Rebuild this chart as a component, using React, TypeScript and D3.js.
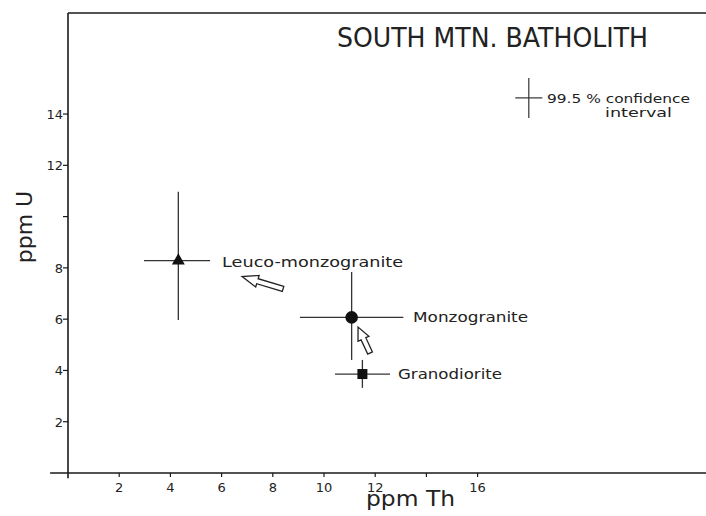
import React from "react";
import * as d3 from "d3";

// ---- data ----
const groups = ["Leuco-monzogranite", "Monzogranite", "Granodiorite"];
const markers = ["triangle", "circle", "square"];
const thMean = [4.31, 11.08, 11.5];
const uMean = [8.28, 6.07, 3.86];
const thLow = [2.97, 9.06, 10.43];
const thHigh = [5.55, 13.1, 12.58];
const uLow = [5.97, 4.41, 3.32];
const uHigh = [10.97, 7.84, 4.41];

const xTicks = [2, 4, 6, 8, 10, 12, 14, 16];
const xTickLabels = ["2", "4", "6", "8", "10", "12", "", "16"];
const yTicks = [2, 4, 6, 8, 10, 12, 14];
const yTickLabels = ["2", "4", "6", "8", "", "12", "14"];

// confidence interval legend (data units)
const ciCenter = [18.0, 14.63];
const ciHalf = [0.53, 0.78];

// annotation arrows (tip -> tail, data units)
const arrowTips = [[6.8, 7.66], [11.33, 5.69]];
const arrowTails = [[8.4, 7.18], [11.8, 4.68]];

// label anchors (data units)
const labelAt = [[6.02, 8.03], [13.48, 5.89], [12.89, 3.67]];
const labelLen = [181, 115, 104];

const W = 706;
const H = 516;
const PX = 25.6;
const PY = 25.64;
const x = d3.scaleLinear().domain([0, 25]).range([68, 68 + 25 * PX]);
const y = d3.scaleLinear().domain([0, 18]).range([473, 473 - 18 * PY]);

const FONT = "'DejaVu Sans', 'Open Sans', sans-serif";
const INK = "#1a1a1a";

function arrowPath(tip: number[], tail: number[]) {
  const tx = x(tip[0]), ty = y(tip[1]);
  const sx = x(tail[0]), sy = y(tail[1]);
  const dx = tx - sx, dy = ty - sy;
  const len = Math.hypot(dx, dy);
  const ux = dx / len, uy = dy / len;
  const nx = -uy, ny = ux;
  const headLen = Math.min(16, len * 0.45);
  const headW = 6;
  const shaftW = 2.6;
  const bx = tx - ux * headLen, by = ty - uy * headLen;
  const pts = [
    [sx + nx * shaftW, sy + ny * shaftW],
    [bx + nx * shaftW, by + ny * shaftW],
    [bx + nx * headW, by + ny * headW],
    [tx, ty],
    [bx - nx * headW, by - ny * headW],
    [bx - nx * shaftW, by - ny * shaftW],
    [sx - nx * shaftW, sy - ny * shaftW],
  ];
  return d3.line()(pts as [number, number][]) + "Z";
}

function Marker({ kind, cx, cy }: { kind: string; cx: number; cy: number }) {
  if (kind === "circle") return <circle cx={cx} cy={cy} r={6.3} fill="#111" />;
  if (kind === "square") return <rect x={cx - 5} y={cy - 5} width={10} height={10} fill="#111" />;
  const s = d3.symbol().type(d3.symbolTriangle).size(72)();
  return <path d={s as string} transform={`translate(${cx},${cy})`} fill="#111" />;
}

export default function App() {
  return (
    <svg
      width={W}
      height={H}
      viewBox={`0 0 ${W} ${H}`}
      style={{ position: "absolute", left: 0, top: 0, background: "#fff" }}
    >
      <rect width={W} height={H} fill="#fff" />
      {/* frame */}
      <line x1={x(0)} x2={W} y1={y(17.94)} y2={y(17.94)} stroke={INK} strokeWidth={1.6} />
      <line x1={x(0)} x2={x(0)} y1={y(17.94)} y2={y(-0.2)} stroke={INK} strokeWidth={1.6} />
      <line x1={x(-0.7)} x2={W} y1={y(0)} y2={y(0)} stroke={INK} strokeWidth={1.6} />

      {/* y ticks */}
      {yTicks.map((t, i) => (
        <g key={"y" + t}>
          <line x1={x(0) - 5} x2={x(0)} y1={y(t)} y2={y(t)} stroke={INK} strokeWidth={1.2} />
          <text x={x(0) - 5} y={y(t) + 5} textAnchor="end" fontFamily={FONT} fontSize={13} fill="#222">
            {yTickLabels[i]}
          </text>
        </g>
      ))}
      {/* x ticks */}
      {xTicks.map((t, i) => (
        <g key={"x" + t}>
          <line x1={x(t)} x2={x(t)} y1={y(0)} y2={y(0) + 4} stroke={INK} strokeWidth={1.2} />
          <text x={x(t)} y={y(0) + 19} textAnchor="middle" fontFamily={FONT} fontSize={13} fill="#222">
            {xTickLabels[i]}
          </text>
        </g>
      ))}

      {/* axis titles */}
      <text x={366} y={506} fontFamily={FONT} fontSize={21} fill="#222" textLength={89} lengthAdjust="spacingAndGlyphs">
        ppm Th
      </text>
      <text
        transform={`translate(32,227) rotate(-90)`}
        textAnchor="middle"
        fontFamily={FONT}
        fontSize={22}
        fill="#222"
      >
        ppm U
      </text>

      {/* title */}
      <text x={337} y={47} fontFamily={FONT} fontSize={26} fill="#222" textLength={311} lengthAdjust="spacingAndGlyphs">
        SOUTH MTN. BATHOLITH
      </text>

      {/* confidence legend */}
      <line x1={x(ciCenter[0] - ciHalf[0])} x2={x(ciCenter[0] + ciHalf[0])} y1={y(ciCenter[1])} y2={y(ciCenter[1])} stroke="#333" strokeWidth={1.2} />
      <line x1={x(ciCenter[0])} x2={x(ciCenter[0])} y1={y(ciCenter[1] - ciHalf[1])} y2={y(ciCenter[1] + ciHalf[1])} stroke="#333" strokeWidth={1.2} />
      <text x={547} y={103} fontFamily={FONT} fontSize={12} fill="#222" textLength={143} lengthAdjust="spacingAndGlyphs">
        99.5 % confidence
      </text>
      <text x={605} y={117} fontFamily={FONT} fontSize={12} fill="#222" textLength={67} lengthAdjust="spacingAndGlyphs">
        interval
      </text>

      {/* error bars + markers */}
      {groups.map((g, i) => (
        <g key={g}>
          <line x1={x(thLow[i])} x2={x(thHigh[i])} y1={y(uMean[i])} y2={y(uMean[i])} stroke="#333" strokeWidth={1.3} />
          <line x1={x(thMean[i])} x2={x(thMean[i])} y1={y(uLow[i])} y2={y(uHigh[i])} stroke="#333" strokeWidth={1.3} />
          <Marker kind={markers[i]} cx={x(thMean[i])} cy={y(uMean[i])} />
          <text
            x={x(labelAt[i][0])}
            y={y(labelAt[i][1])}
            fontFamily={FONT}
            fontSize={14}
            fill="#222"
            textLength={labelLen[i]}
            lengthAdjust="spacingAndGlyphs"
          >
            {g}
          </text>
        </g>
      ))}

      {/* arrows */}
      {arrowTips.map((tip, i) => (
        <path key={"a" + i} d={arrowPath(tip, arrowTails[i])} fill="#fff" stroke="#222" strokeWidth={1.3} strokeLinejoin="miter" />
      ))}
    </svg>
  );
}
